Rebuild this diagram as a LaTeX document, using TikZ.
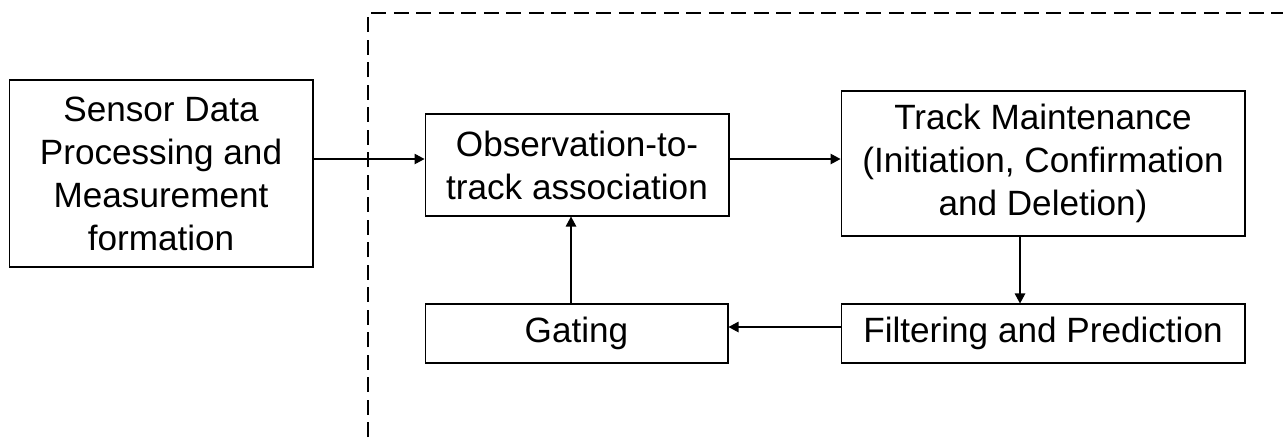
\documentclass[tikz,border=0pt]{standalone}
\usepackage{fontspec}
\setmainfont{Liberation Sans}
\usetikzlibrary{positioning, calc, arrows.meta}

\begin{document}
\begin{tikzpicture}[x=0.02cm, y=-0.02cm,
    block/.style={draw, line width=0.6pt, align=center, inner sep=0pt,
        font=\fontsize{20}{24.5}\selectfont},
    arr/.style={line width=0.6pt, -{Triangle[length=0.2cm, width=0.21cm]}}]
                \useasboundingbox (0,0) rectangle (1283,437);
                \node[block, minimum width=6.08cm, minimum height=3.74cm] (sensor) at (161,173.5) {Sensor Data\\Processing and\\Measurement\\formation};
                \node[block, minimum width=6.08cm, minimum height=2.04cm] (obs) at (577,165) {Observation-to-\\track association};
                \node[block, minimum width=8.08cm, minimum height=2.9cm] (track) at (1043,163.5) {Track Maintenance\\(Initiation, Confirmation\\and Deletion)};
                \node[block, minimum width=6.06cm, minimum height=1.18cm] (gating) at (576.5,333.5) {Gating};
                \node[block, minimum width=8.08cm, minimum height=1.18cm] (filter) at (1043,333.5) {Filtering and Prediction};
                % dashed frame
                \coordinate (fbot) at (368,437);
                \coordinate (fcorner) at (368,13);
                \coordinate (fright) at (1283,13);
                \draw[dashed, line width=0.75pt, dash pattern=on 0.3cm off 0.15cm] (fbot) -- (fcorner) -- (fright);
                % connectors
                \draw[arr] ([yshift=0.12cm]obs.west -| sensor.east) -- ([yshift=0.12cm]obs.west);
                \draw[arr] ([yshift=0.12cm]obs.east) -- ([yshift=0.12cm]obs.east -| track.west);
                \draw[arr] ([xshift=-0.46cm]track.south) -- ([xshift=-0.46cm]filter.north);
                \draw[arr] ([yshift=0.13cm]filter.west) -- ([yshift=0.13cm]gating.east);
                \draw[arr] ([xshift=-0.11cm]gating.north) -- ([xshift=-0.11cm]gating.north |- obs.south);
            \end{tikzpicture}
\end{document}
